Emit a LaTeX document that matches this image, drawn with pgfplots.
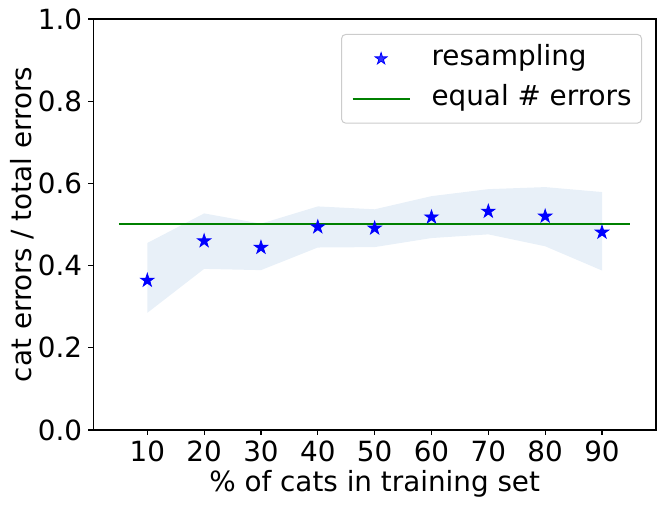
\documentclass[border=0pt]{standalone}
\usepackage{fontspec}
\setmainfont{DejaVu Sans}
\usepackage{pgfplots}
\pgfplotsset{compat=1.18}
\definecolor{bandcol}{RGB}{232,240,248}
\definecolor{mplgreen}{RGB}{0,128,0}
\definecolor{mplblue}{RGB}{0,0,255}
\pgfdeclareplotmark{fstar}{%
  \pgfpathmoveto{\pgfpointpolar{90}{\pgfplotmarksize}}%
  \pgfpathlineto{\pgfpointpolar{126}{0.382\pgfplotmarksize}}%
  \pgfpathlineto{\pgfpointpolar{162}{\pgfplotmarksize}}%
  \pgfpathlineto{\pgfpointpolar{198}{0.382\pgfplotmarksize}}%
  \pgfpathlineto{\pgfpointpolar{234}{\pgfplotmarksize}}%
  \pgfpathlineto{\pgfpointpolar{270}{0.382\pgfplotmarksize}}%
  \pgfpathlineto{\pgfpointpolar{306}{\pgfplotmarksize}}%
  \pgfpathlineto{\pgfpointpolar{342}{0.382\pgfplotmarksize}}%
  \pgfpathlineto{\pgfpointpolar{18}{\pgfplotmarksize}}%
  \pgfpathlineto{\pgfpointpolar{54}{0.382\pgfplotmarksize}}%
  \pgfpathclose
  \pgfusepathqfillstroke}
\newcommand{\bigfont}{\fontsize{27.8bp}{33bp}\selectfont}
\begin{document}
\begin{tikzpicture}
\begin{axis}[
  scale only axis,
  width=562.7bp, height=411bp,
  xmin=0.5, xmax=99.5, ymin=0, ymax=1,
  xtick={10,20,30,40,50,60,70,80,90},
  ytick={0,0.2,0.4,0.6,0.8,1.0},
  xtick pos=bottom, ytick pos=left,
  tick align=outside,
  major tick length=4.9bp,
  every tick/.style={black, line width=1.1bp},
  axis line style={black, line width=1.1bp},
  /pgf/number format/assume math mode=true,
  yticklabel style={/pgf/number format/fixed, /pgf/number format/precision=1, /pgf/number format/fixed zerofill},
  tick label style={font=\bigfont},
  xticklabel style={anchor=north, inner sep=0pt, yshift=-5.8bp},
  yticklabel style={anchor=east, inner sep=0pt, xshift=-6.1bp},
  xlabel={\% of cats in training set},
  ylabel={cat errors / total errors},
  label style={font=\bigfont},
  xlabel style={at={(axis description cs:0.5,-0.1496)}, anchor=base, inner sep=0pt},
  ylabel style={at={(axis description cs:-0.109,0.5)}, anchor=base, inner sep=0pt},
  legend style={font=\bigfont, at={(axis description cs:1,1)}, anchor=north east,
    xshift=-14bp, yshift=-15bp, draw=black!20, line width=1bp, rounded corners=4bp,
    fill=white, fill opacity=0.8, text opacity=1,
    inner xsep=10bp, inner ysep=10.3bp, row sep=12bp, column sep=21bp,
    nodes={inner sep=0pt, text height=21bp, text depth=7bp},
    cells={anchor=west}},
  legend cell align=left,
]
\addplot[fill=bandcol, draw=none, forget plot] coordinates {
  (10,0.455) (20,0.527) (30,0.502) (40,0.544) (50,0.537) (60,0.569) (70,0.586) (80,0.591) (90,0.579)
  (90,0.388) (80,0.447) (70,0.476) (60,0.467) (50,0.445) (40,0.444) (30,0.389) (20,0.392) (10,0.285)
} -- cycle;
\addplot[mplgreen, line width=2bp, forget plot] coordinates {(5,0.5) (95,0.5)};
\addplot[only marks, mark=fstar, mark size=7bp, draw=mplblue, fill=mplblue, line width=0.8bp,
  legend image code/.code={\pgfsetlinewidth{0.8bp}\pgfsetstrokecolor{mplblue}\pgfsetfillcolor{mplblue}%
    \pgfplotmarksize=6.2bp\relax
    \pgfpathrectangle{\pgfqpoint{0bp}{0bp}}{\pgfqpoint{57bp}{0bp}}\pgfusepath{}%
    \pgftransformshift{\pgfqpoint{28.5bp}{0bp}}\pgfuseplotmark{fstar}}]
  coordinates {(10,0.364) (20,0.460) (30,0.444) (40,0.494) (50,0.491) (60,0.518) (70,0.532) (80,0.520) (90,0.481)};
\addlegendentry{resampling}
\addlegendimage{mplgreen, line width=2bp, legend image code/.code={\draw (0bp,0bp) -- (57bp,0bp);}}
\addlegendentry{equal \# errors}
\end{axis}
\pgfresetboundingbox
\path[use as bounding box] ([shift={(-93.3bp,-77bp)}]current axis.south west) rectangle ([shift={(9bp,19bp)}]current axis.north east);
\end{tikzpicture}
\end{document}
